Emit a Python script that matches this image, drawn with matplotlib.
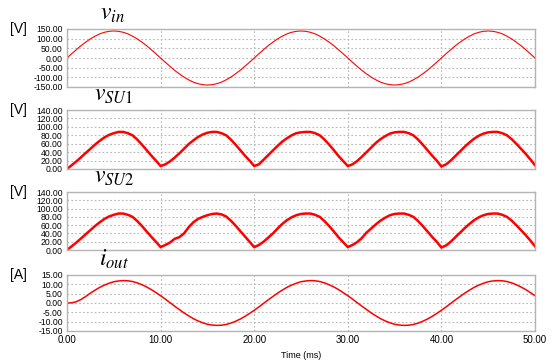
import matplotlib
matplotlib.use("Agg")
import matplotlib.pyplot as plt
import numpy as np

# time axis in ms, one sample every 0.5 ms
time_ms = np.arange(0, 50.01, 0.5)

v_in = [0, 22, 43, 64, 82, 99, 113, 125, 133, 138, 140, 138, 133, 125, 113, 99, 82, 64, 43, 22, 0,
        -22, -43, -64, -82, -99, -113, -125, -133, -138, -140, -138, -133, -125, -113, -99, -82, -64, -43, -22, 0,
        22, 43, 64, 82, 99, 113, 125, 133, 138, 140, 138, 133, 125, 113, 99, 82, 64, 43, 22, 0,
        -22, -43, -64, -82, -99, -113, -125, -133, -138, -140, -138, -133, -125, -113, -99, -82, -64, -43, -22, 0,
        22, 43, 64, 82, 99, 113, 125, 133, 138, 140, 138, 133, 125, 113, 99, 82, 64, 43, 22, 0]

v_su1 = [0, 9, 18, 28, 38, 48, 58, 67, 75, 81, 85, 88, 88, 85, 80, 70, 58, 45, 32, 20, 7,
         11, 18, 27, 37, 48, 59, 68, 76, 82, 86, 88, 88, 85, 80, 70, 58, 45, 32, 20, 7,
         11, 22, 33, 44, 55, 65, 73, 80, 85, 87, 88, 88, 85, 80, 70, 58, 45, 31, 19, 7,
         11, 19, 29, 40, 51, 62, 71, 78, 84, 87, 88, 88, 85, 80, 70, 58, 45, 32, 20, 6,
         11, 20, 31, 42, 53, 63, 72, 79, 84, 87, 88, 88, 85, 80, 71, 60, 48, 36, 23, 9]

v_su2 = [0, 9, 18, 28, 38, 48, 58, 67, 75, 81, 85, 88, 88, 85, 80, 70, 58, 45, 32, 20, 7,
         12, 18, 27, 31, 40, 55, 67, 75, 80, 84, 87, 88, 86, 81, 71, 59, 46, 33, 20, 7,
         12, 20, 30, 40, 52, 63, 72, 79, 84, 87, 88, 88, 85, 80, 70, 58, 45, 31, 19, 7,
         12, 19, 29, 42, 52, 62, 71, 78, 84, 87, 88, 88, 85, 80, 70, 58, 45, 32, 20, 6,
         11, 20, 31, 42, 53, 63, 72, 79, 84, 87, 88, 88, 85, 80, 71, 60, 48, 36, 23, 9]

i_out = [0.0, 0.1, 0.7, 1.9,
         3.5, 5.3, 6.9, 8.4, 9.6, 10.6, 11.4, 11.8, 12.0, 11.9, 11.5, 10.8, 9.8, 8.6, 7.2, 5.6, 3.9, 2.1, 0.2, -1.7,
         -3.5, -5.3, -6.9, -8.4, -9.6, -10.6, -11.4, -11.8, -12.0, -11.9, -11.5, -10.8, -9.8, -8.6, -7.2, -5.6, -3.9, -2.1, -0.2, 1.7,
         3.5, 5.3, 6.9, 8.4, 9.6, 10.6, 11.4, 11.8, 12.0, 11.9, 11.5, 10.8, 9.8, 8.6, 7.2, 5.6, 3.9, 2.1, 0.2, -1.7,
         -3.5, -5.3, -6.9, -8.4, -9.6, -10.6, -11.4, -11.8, -12.0, -11.9, -11.5, -10.8, -9.8, -8.6, -7.2, -5.6, -3.9, -2.1, -0.2, 1.7,
         3.5, 5.3, 6.9, 8.4, 9.6, 10.6, 11.4, 11.8, 12.0, 11.9, 11.5, 10.8, 9.8, 8.6, 7.2, 5.6, 3.9]

x_ticks = [0, 10, 20, 30, 40, 50]
vin_ticks = [-150, -100, -50, 0, 50, 100, 150]
vsu_ticks = [0, 20, 40, 60, 80, 100, 120, 140]
iout_ticks = [-15, -10, -5, 0, 5, 10, 15]

plt.rcParams['font.family'] = ['Liberation Sans', 'DejaVu Sans']
plt.rcParams['mathtext.fontset'] = 'stix'

W, H = 552, 361
fig = plt.figure(figsize=(W / 100, H / 100), dpi=100)

# (top, bottom) of each panel in pixels
boxes = [(29, 87), (110, 169), (192, 250), (275, 331)]
left_px, right_px = 67, 535

panels = [
    (v_in, vin_ticks, r'$v_{in}$', '[V]', 0.8),
    (v_su1, vsu_ticks, r'$v_{\mathit{SU1}}$', '[V]', 1.8),
    (v_su2, vsu_ticks, r'$v_{\mathit{SU2}}$', '[V]', 1.8),
    (i_out, iout_ticks, r'$i_{out}$', '[A]', 1.1),
]
title_x = [100, 94, 94, 99]

for n, ((top, bot), (data, yt, title, unit, lw)) in enumerate(zip(boxes, panels)):
    ax = fig.add_axes([left_px / W, 1 - bot / H, (right_px - left_px) / W, (bot - top) / H])
    ax.plot(time_ms, data, color='#ff0000', lw=lw, solid_joinstyle='miter')
    ax.set_xlim(0, 50)
    ax.set_ylim(yt[0], yt[-1])
    ax.set_yticks(yt)
    ax.set_yticklabels([f'{v:.2f}' for v in yt])
    ax.set_xticks(x_ticks)
    if n == 3:
        ax.set_xticklabels([f'{v:.2f}' for v in x_ticks], fontsize=7)
    else:
        ax.set_xticklabels([])
    ax.tick_params(axis='y', length=0, labelsize=6.2, pad=3)
    ax.tick_params(axis='x', length=0, pad=3)
    ax.grid(True, ls=(0, (1.5, 2)), color='#b8b8b8', lw=0.8)
    for s in ax.spines.values():
        s.set_color('#b4b4b4')
        s.set_linewidth(1.0)
    fig.text(title_x[n] / W, 1 - (top - 9) / H, title, fontsize=17, ha='left', va='baseline')
    fig.text(10 / W, 1 - top / H, unit, fontsize=10, ha='left', va='center')

fig.text(301 / W, 1 - 356 / H, 'Time (ms)', fontsize=6.5, ha='center', va='center')

fig.savefig('out.png', dpi=100)
